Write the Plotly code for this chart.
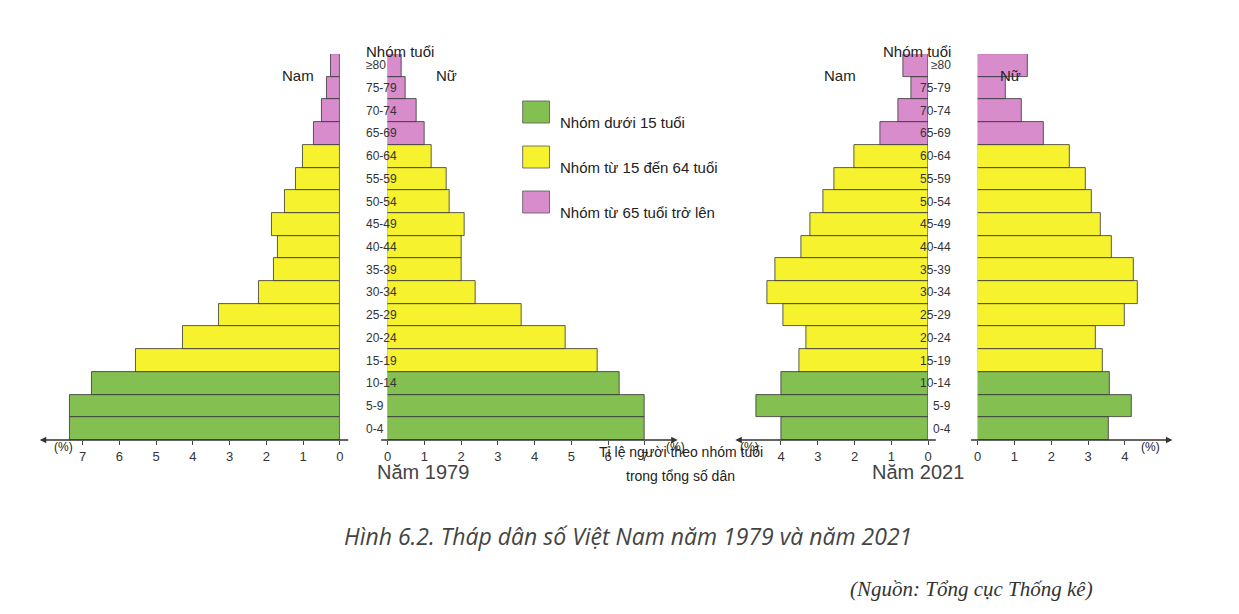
import plotly.graph_objects as go

W, H = 1239, 614
ages = ["0-4", "5-9", "10-14", "15-19", "20-24", "25-29", "30-34", "35-39", "40-44",
        "45-49", "50-54", "55-59", "60-64", "65-69", "70-74", "75-79", "≥80"]
male_1979 = [7.35, 7.35, 6.75, 5.55, 4.27, 3.3, 2.2, 1.8, 1.68, 1.84, 1.5, 1.2, 1.0, 0.7, 0.5, 0.35, 0.25]
female_1979 = [7.0, 7.0, 6.3, 5.7, 4.85, 3.65, 2.4, 2.0, 2.0, 2.1, 1.7, 1.6, 1.2, 1.0, 0.8, 0.5, 0.38]
male_2021 = [4.0, 4.68, 4.0, 3.5, 3.3, 3.95, 4.38, 4.16, 3.46, 3.2, 2.86, 2.54, 2.0, 1.3, 0.8, 0.46, 0.68]
female_2021 = [3.55, 4.2, 3.6, 3.4, 3.2, 4.0, 4.35, 4.25, 3.65, 3.35, 3.1, 2.95, 2.5, 1.8, 1.2, 0.75, 1.35]

GREEN, YELLOW, PINK = "#84bf52", "#f7f22e", "#d98ccb"
colors = [GREEN] * 3 + [YELLOW] * 10 + [PINK] * 4

def px(x): return x / W
def py(y): return 1 - y / H

S = 37.0  # px per percent
panels = [  # (values, left px, right px, reversed, max tick)
    (male_1979, 22, 330, True, 7),
    (female_1979, 378, 662, False, 7),
    (male_2021, 728, 922, True, 4),
    (female_2021, 972, 1160, False, 4),
]

fig = go.Figure()
layout = dict(width=W, height=H, margin=dict(l=0, r=0, t=0, b=0),
              paper_bgcolor="white", plot_bgcolor="rgba(0,0,0,0)",
              showlegend=False, bargap=0, font=dict(family="Arial", color="#222"))
for i, (vals, x0, x1, rev, tmax) in enumerate(panels, start=1):
    span = (x1 - x0) / S
    fig.add_trace(go.Bar(x=vals, y=ages, orientation="h", xaxis=f"x{i}", yaxis="y",
                         marker=dict(color=colors, line=dict(color="#333", width=0.8))))
    layout[f"xaxis{i}" if i > 1 else "xaxis"] = dict(
        domain=[px(x0), px(x1)], range=[span, 0] if rev else [0, span],
        tickvals=list(range(tmax + 1)), ticks="outside", ticklen=4, showgrid=False,
        zeroline=False, showline=False, anchor="y", tickfont=dict(size=13, color="#333"))
layout["yaxis"] = dict(domain=[py(432), py(46)], range=[-0.5, 16.5], visible=False,
                       type="category", categoryorder="array", categoryarray=ages)
fig.update_layout(**layout)

ann = []
def text(x, y, t, size=14, **kw):
    ann.append(dict(x=px(x), y=py(y), xref="paper", yref="paper", text=t, showarrow=False,
                    font=dict(size=size, color=kw.pop("color", "#222"), family=kw.pop("family", "Arial")), **kw))

# age labels
for cx in (354, 947):
    for a in ages:
        ann.append(dict(x=px(cx), y=a, xref="paper", yref="y", text=a, showarrow=False,
                        font=dict(size=12, color="#333")))
    text(cx, 33, "Nhóm tuổi", 15)
text(270, 57, "Nam", 15); text(437, 57, "Nữ", 15)
text(851, 57, "Nam", 15); text(1018, 57, "Nữ", 15)

# axis lines with arrows
for (xs, xe) in [(338, 28), (372, 670), (930, 728), (965, 1168)]:
    ann.append(dict(x=px(xe), y=py(432), ax=xs - xe, ay=0, xref="paper", yref="paper",
                    axref="pixel", ayref="pixel", showarrow=True, arrowhead=2, arrowwidth=1.3,
                    arrowcolor="#333", text=""))
text(40, 448, "(%)", 12); text(668, 448, "(%)", 12)
text(742, 448, "(%)", 12); text(1157, 448, "(%)", 12)

text(365, 477, "Năm 1979", 20, color="#444")
text(960, 477, "Năm 2021", 20, color="#444")
text(673, 454, "Tỉ lệ người theo nhóm tuổi", 14)
text(673, 478, "trong tổng số dân", 14)
text(620, 546, "<i>Hình 6.2. Tháp dân số Việt Nam năm 1979 và năm 2021</i>", 23, color="#444",
     family="Open Sans")
text(1090, 595, "<i>(Nguồn: Tổng cục Thống kê)</i>", 21, color="#333", family="Liberation Serif")

# legend
shapes = []
for j, (c, t) in enumerate([(GREEN, "Nhóm dưới 15 tuổi"), (YELLOW, "Nhóm từ 15 đến 64 tuổi"),
                            (PINK, "Nhóm từ 65 tuổi trở lên")]):
    yc = 104 + j * 45
    shapes.append(dict(type="rect", xref="paper", yref="paper", x0=px(514), x1=px(541),
                       y0=py(yc + 11), y1=py(yc - 11), fillcolor=c, line=dict(color="#555", width=0.8)))
    text(550, yc, t, 15, xanchor="left")
fig.update_layout(annotations=ann, shapes=shapes)
fig.write_html("out.html")
